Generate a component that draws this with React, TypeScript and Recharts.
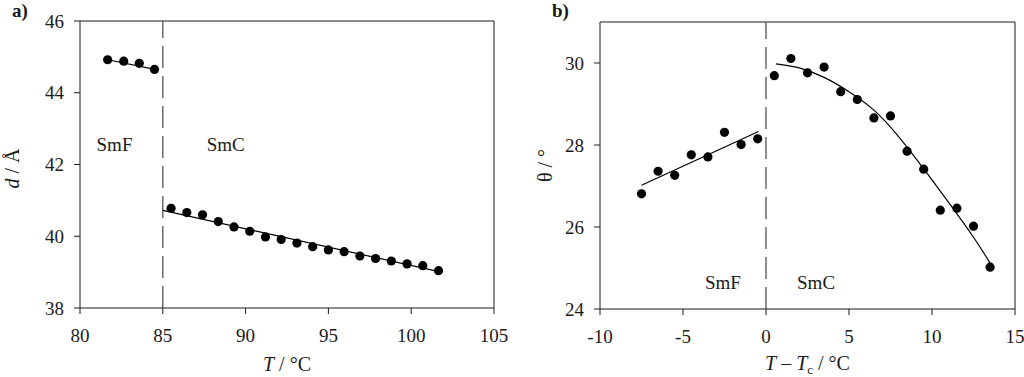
import { ScatterChart, Scatter, XAxis, YAxis, ReferenceLine, ReferenceDot } from "recharts"

// panel a: layer spacing vs temperature
const tempSmF = [81.67, 82.64, 83.58, 84.5]
const spacingSmF = [44.92, 44.88, 44.82, 44.65]
const tempSmC = [
  85.5, 86.45, 87.4, 88.35, 89.3, 90.25, 91.2, 92.15, 93.1, 94.05, 95.0, 95.95, 96.9, 97.85,
  98.8, 99.75, 100.7, 101.65,
]
const spacingSmC = [
  40.78, 40.66, 40.6, 40.41, 40.26, 40.14, 39.98, 39.91, 39.81, 39.71, 39.62, 39.57, 39.45,
  39.38, 39.31, 39.23, 39.18, 39.04,
]
const fitTempSmF = [81.69, 84.51]
const fitSpacingSmF = [44.92, 44.65]
const fitTempSmC = [85.01, 101.62]
const fitSpacingSmC = [40.72, 39.02]
const tempTicks = [80, 85, 90, 95, 100, 105]
const spacingTicks = [38, 40, 42, 44, 46]

// panel b: tilt angle vs T - Tc
const dtSmF = [-7.5, -6.5, -5.5, -4.5, -3.5, -2.5, -1.5, -0.5]
const tiltSmF = [26.81, 27.36, 27.26, 27.76, 27.71, 28.31, 28.01, 28.15]
const dtSmC = [0.5, 1.5, 2.5, 3.5, 4.5, 5.5, 6.5, 7.5, 8.5, 9.5, 10.5, 11.5, 12.5, 13.5]
const tiltSmC = [
  29.69, 30.11, 29.76, 29.9, 29.3, 29.11, 28.66, 28.71, 27.85, 27.41, 26.41, 26.46, 26.02, 25.02,
]
const fitDtSmF = [-7.5, -0.45]
const fitTiltSmF = [27.02, 28.33]
const fitDtSmC = [0.6, 2, 3.5, 5, 6.5, 8, 9.5, 11, 12.5, 13.5]
const fitTiltSmC = [29.98, 29.88, 29.65, 29.3, 28.85, 28.2, 27.42, 26.6, 25.75, 25.12]
const dtTicks = [-10, -5, 0, 5, 10, 15]
const tiltTicks = [24, 26, 28, 30]

const toPoints = (xs: number[], ys: number[]) => xs.map((x, i) => ({ x, y: ys[i] }))

const FONT = "'Liberation Serif', 'Times New Roman', serif"
const INK = "#1a1a1a"

const Dot = (p: any) => <circle cx={p.cx} cy={p.cy} r={4.6} fill="#000" />
const NoDot = () => <g />

const tickStyle = { fontFamily: FONT, fontSize: 19, fill: INK }

const phaseLabel = (text: string) => (p: any) => (
  <text x={p.cx} y={p.cy} fontFamily={FONT} fontSize={19} fill={INK}>
    {text}
  </text>
)

function PanelA() {
  return (
    <ScatterChart width={512} height={377} margin={{ top: 21, right: 18, bottom: 29, left: 0 }}>
      <XAxis
        type="number"
        dataKey="x"
        domain={[80, 105]}
        ticks={tempTicks}
        interval={0}
        height={40}
        tickSize={6}
        tickMargin={15}
        tick={tickStyle}
        stroke={INK}
        label={(props: any) => {
          const vb = props.viewBox
          return (
            <text x={vb.x + vb.width / 2} y={vb.y + 63} textAnchor="middle" fontFamily={FONT} fontSize={20} fill={INK}>
              <tspan fontStyle="italic">T</tspan> / °C
            </text>
          )
        }}
      />
      <YAxis
        type="number"
        dataKey="y"
        domain={[38, 46]}
        ticks={spacingTicks}
        interval={0}
        width={80}
        tickSize={6}
        tickMargin={10}
        tick={tickStyle}
        stroke={INK}
        label={(props: any) => {
          const vb = props.viewBox
          const cx = vb.x + 12
          const cy = vb.y + vb.height / 2 + 4
          return (
            <text x={cx} y={cy} transform={`rotate(-90, ${cx}, ${cy})`} textAnchor="middle" dominantBaseline="central" fontFamily={FONT} fontSize={20} fill={INK}>
              <tspan fontStyle="italic">d</tspan> / Å
            </text>
          )
        }}
      />
      <ReferenceLine y={46} stroke={INK} />
      <ReferenceLine x={105} stroke={INK} />
      <ReferenceLine x={85} stroke="#555" strokeWidth={1.3} strokeDasharray="22 8" />
      <ReferenceDot x={81} y={42.38} r={0} shape={phaseLabel("SmF")} />
      <ReferenceDot x={87.65} y={42.38} r={0} shape={phaseLabel("SmC")} />
      <Scatter data={toPoints(fitTempSmF, fitSpacingSmF)} line={{ stroke: "#000", strokeWidth: 1.2 }} shape={NoDot} isAnimationActive={false} />
      <Scatter data={toPoints(fitTempSmC, fitSpacingSmC)} line={{ stroke: "#000", strokeWidth: 1.2 }} shape={NoDot} isAnimationActive={false} />
      <Scatter data={toPoints(tempSmF, spacingSmF)} shape={Dot} isAnimationActive={false} />
      <Scatter data={toPoints(tempSmC, spacingSmC)} shape={Dot} isAnimationActive={false} />
    </ScatterChart>
  )
}

function PanelB() {
  return (
    <ScatterChart width={512} height={377} margin={{ top: 22, right: 9, bottom: 28, left: 0 }}>
      <XAxis
        type="number"
        dataKey="x"
        domain={[-10, 15]}
        ticks={dtTicks}
        interval={0}
        height={40}
        tickSize={6}
        tickMargin={15}
        tick={tickStyle}
        stroke={INK}
        label={(props: any) => {
          const vb = props.viewBox
          return (
            <text x={vb.x + vb.width / 2} y={vb.y + 61} textAnchor="middle" fontFamily={FONT} fontSize={20} fill={INK}>
              <tspan fontStyle="italic">T</tspan>
              <tspan> – </tspan>
              <tspan fontStyle="italic">T</tspan>
              <tspan dy={4} fontSize={13}>c</tspan>
              <tspan dy={-4}> / °C</tspan>
            </text>
          )
        }}
      />
      <YAxis
        type="number"
        dataKey="y"
        domain={[24, 31]}
        ticks={tiltTicks}
        interval={0}
        width={88}
        tickSize={6}
        tickMargin={10}
        tick={tickStyle}
        stroke={INK}
        label={(props: any) => {
          const vb = props.viewBox
          const cx = vb.x + 33
          const cy = vb.y + vb.height / 2
          return (
            <text x={cx} y={cy} transform={`rotate(-90, ${cx}, ${cy})`} textAnchor="middle" dominantBaseline="central" fontFamily={FONT} fontSize={20} fill={INK}>
              θ / °
            </text>
          )
        }}
      />
      <ReferenceLine y={31} stroke={INK} />
      <ReferenceLine x={15} stroke={INK} />
      <ReferenceLine x={0} stroke="#555" strokeWidth={1.3} strokeDasharray="22 8" />
      <ReferenceDot x={-3.68} y={24.5} r={0} shape={phaseLabel("SmF")} />
      <ReferenceDot x={1.87} y={24.5} r={0} shape={phaseLabel("SmC")} />
      <Scatter data={toPoints(fitDtSmF, fitTiltSmF)} line={{ stroke: "#000", strokeWidth: 1.2 }} shape={NoDot} isAnimationActive={false} />
      <Scatter data={toPoints(fitDtSmC, fitTiltSmC)} line={{ stroke: "#000", strokeWidth: 1.2 }} lineJointType="natural" shape={NoDot} isAnimationActive={false} />
      <Scatter data={toPoints(dtSmF, tiltSmF)} shape={Dot} isAnimationActive={false} />
      <Scatter data={toPoints(dtSmC, tiltSmC)} shape={Dot} isAnimationActive={false} />
    </ScatterChart>
  )
}

export default function App() {
  return (
    <div style={{ position: "absolute", left: 0, top: 0, width: 1024, height: 377, background: "#fff" }}>
      <div style={{ position: "absolute", left: 0, top: 0 }}>
        <PanelA />
      </div>
      <div style={{ position: "absolute", left: 512, top: 0 }}>
        <PanelB />
      </div>
      <div style={{ position: "absolute", left: 12, top: 0, fontFamily: FONT, fontSize: 19, fontWeight: "bold", color: INK }}>a)</div>
      <div style={{ position: "absolute", left: 552, top: 0, fontFamily: FONT, fontSize: 19, fontWeight: "bold", color: INK }}>b)</div>
    </div>
  )
}
